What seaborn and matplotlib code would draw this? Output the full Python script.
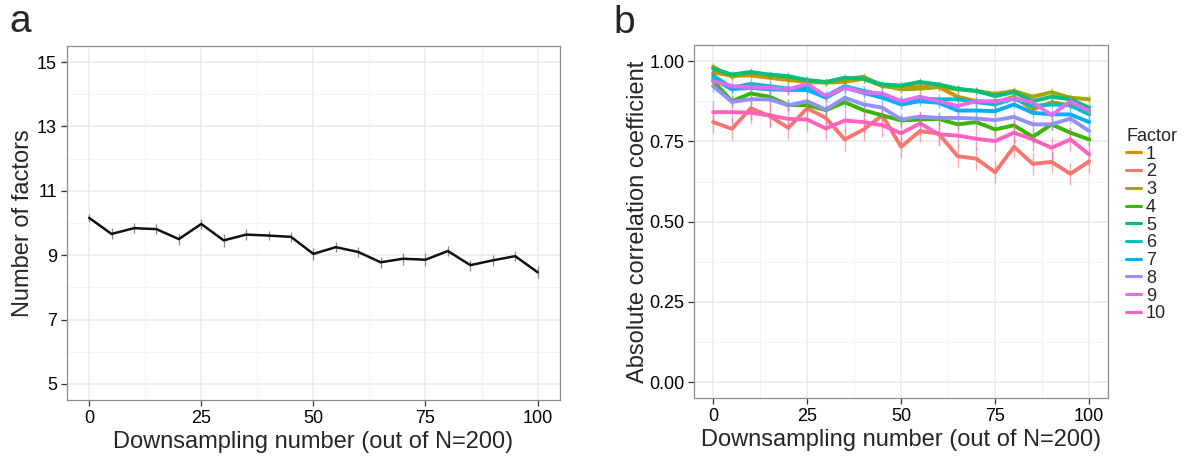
import numpy as np
import pandas as pd
import matplotlib
matplotlib.use("Agg")
import matplotlib.pyplot as plt
from matplotlib.lines import Line2D
from matplotlib.ticker import MultipleLocator, FormatStrFormatter
import seaborn as sns

# ---------------- data ----------------
downsampling = [0, 5, 10, 15, 20, 25, 30, 35, 40, 45, 50,
                55, 60, 65, 70, 75, 80, 85, 90, 95, 100]

# panel a: number of factors (mean) and error half-width
n_factors = [10.16, 9.66, 9.84, 9.81, 9.50, 9.97, 9.46, 9.64, 9.61, 9.57, 9.04,
             9.25, 9.10, 8.78, 8.89, 8.86, 9.13, 8.69, 8.84, 8.97, 8.47]
n_factors_err = [0.12, 0.17, 0.15, 0.15, 0.17, 0.15, 0.2, 0.17, 0.15, 0.15, 0.18,
                 0.15, 0.17, 0.17, 0.18, 0.2, 0.17, 0.17, 0.18, 0.15, 0.18]

# panel b: absolute correlation coefficient per factor
factor_1 = [0.964, 0.955, 0.955, 0.948, 0.941, 0.935, 0.933, 0.935, 0.945, 0.922, 0.917,
            0.922, 0.919, 0.889, 0.875, 0.870, 0.889, 0.849, 0.872, 0.862, 0.844]
factor_2 = [0.810, 0.789, 0.853, 0.829, 0.792, 0.853, 0.823, 0.756, 0.787, 0.831, 0.733,
            0.782, 0.774, 0.704, 0.696, 0.654, 0.733, 0.680, 0.686, 0.649, 0.688]
factor_3 = [0.982, 0.951, 0.964, 0.955, 0.945, 0.938, 0.933, 0.943, 0.951, 0.924, 0.912,
            0.914, 0.919, 0.912, 0.907, 0.898, 0.907, 0.889, 0.903, 0.886, 0.881]
factor_4 = [0.938, 0.875, 0.899, 0.889, 0.863, 0.863, 0.847, 0.872, 0.847, 0.831, 0.815,
            0.818, 0.820, 0.803, 0.810, 0.787, 0.800, 0.764, 0.803, 0.777, 0.756]
factor_5 = [0.976, 0.958, 0.966, 0.958, 0.953, 0.941, 0.935, 0.948, 0.945, 0.927, 0.924,
            0.935, 0.927, 0.914, 0.907, 0.891, 0.903, 0.875, 0.889, 0.881, 0.855]
factor_6 = [0.955, 0.917, 0.929, 0.922, 0.914, 0.917, 0.891, 0.922, 0.907, 0.896, 0.875,
            0.883, 0.881, 0.881, 0.872, 0.865, 0.883, 0.860, 0.865, 0.862, 0.834]
factor_7 = [0.945, 0.912, 0.917, 0.912, 0.910, 0.910, 0.886, 0.917, 0.901, 0.886, 0.865,
            0.875, 0.870, 0.846, 0.846, 0.844, 0.865, 0.839, 0.834, 0.834, 0.810]
factor_8 = [0.922, 0.873, 0.881, 0.881, 0.862, 0.875, 0.849, 0.886, 0.865, 0.855, 0.818,
            0.827, 0.823, 0.823, 0.821, 0.816, 0.826, 0.803, 0.803, 0.821, 0.782]
factor_9 = [0.938, 0.922, 0.919, 0.917, 0.912, 0.929, 0.891, 0.917, 0.903, 0.899, 0.875,
            0.889, 0.875, 0.860, 0.875, 0.875, 0.883, 0.872, 0.831, 0.875, 0.844]
factor_10 = [0.841, 0.841, 0.839, 0.831, 0.820, 0.818, 0.790, 0.815, 0.810, 0.800, 0.775,
             0.806, 0.772, 0.768, 0.758, 0.751, 0.777, 0.756, 0.730, 0.756, 0.709]

factor_labels = ["1", "2", "3", "4", "5", "6", "7", "8", "9", "10"]
factor_err = [0.012, 0.035, 0.012, 0.018, 0.012, 0.015, 0.015, 0.018, 0.015, 0.035]
factor_colors = ["#D89000", "#F8766D", "#A3A500", "#39B600", "#00BF7D",
                 "#00BFC4", "#00B0F6", "#9590FF", "#E76BF3", "#FF62BC"]
factor_values = [factor_1, factor_2, factor_3, factor_4, factor_5,
                 factor_6, factor_7, factor_8, factor_9, factor_10]

# ---------------- style ----------------
sns.set_theme(style="white")
plt.rcParams["font.family"] = ["Liberation Sans", "DejaVu Sans"]

GRID_MAJOR = "#EBEBEB"
GRID_MINOR = "#F4F4F4"
BORDER = "#8C8C8C"


def style_axes(ax):
    ax.set_facecolor("white")
    for s in ax.spines.values():
        s.set_visible(True)
        s.set_color(BORDER)
        s.set_linewidth(0.9)
    ax.grid(True, which="major", color=GRID_MAJOR, linewidth=1.1, zorder=0)
    ax.grid(True, which="minor", color=GRID_MINOR, linewidth=0.7, zorder=0)
    ax.set_axisbelow(True)
    ax.tick_params(which="major", direction="out", length=4, width=0.9,
                   color="#333333", labelsize=13, labelcolor="black", pad=3,
                   bottom=True, left=True)
    ax.tick_params(which="minor", length=0)
    ax.xaxis.set_major_locator(MultipleLocator(25))
    ax.xaxis.set_minor_locator(MultipleLocator(12.5))
    ax.set_xlim(-5, 105)


fig = plt.figure(figsize=(11.85, 4.57), dpi=100)
ax_a = fig.add_axes([0.0563, 0.1247, 0.4163, 0.7746])
ax_b = fig.add_axes([0.5859, 0.1284, 0.3491, 0.7731])

# ---------------- panel a ----------------
df_a = pd.DataFrame({"x": downsampling, "y": n_factors, "err": n_factors_err})
style_axes(ax_a)
ax_a.vlines(df_a["x"], df_a["y"] - df_a["err"], df_a["y"] + df_a["err"],
            color="#8a8a8a", linewidth=0.9, zorder=2)
sns.lineplot(data=df_a, x="x", y="y", ax=ax_a, color="#111111", linewidth=1.8,
             zorder=3, legend=False)
ax_a.set_ylim(4.5, 15.5)
ax_a.yaxis.set_major_locator(MultipleLocator(2, offset=1))
ax_a.yaxis.set_minor_locator(MultipleLocator(1))
ax_a.set_xlabel("Downsampling number (out of N=200)", fontsize=17, labelpad=3)
ax_a.set_ylabel("Number of factors", fontsize=17, labelpad=2)

# ---------------- panel b ----------------
rows = []
for lab, vals, err in zip(factor_labels, factor_values, factor_err):
    for x, v in zip(downsampling, vals):
        rows.append({"x": x, "r": v, "err": err, "Factor": lab})
df_b = pd.DataFrame(rows)

style_axes(ax_b)
palette = dict(zip(factor_labels, factor_colors))
sns.lineplot(data=df_b, x="x", y="r", hue="Factor", hue_order=factor_labels,
             palette=palette, linewidth=2.8, ax=ax_b, legend=False, zorder=3)
for lab in factor_labels:
    sub = df_b[df_b["Factor"] == lab]
    ax_b.vlines(sub["x"], sub["r"] - sub["err"], sub["r"] + sub["err"],
                color=palette[lab], linewidth=1.0, alpha=0.6, zorder=4)
ax_b.set_ylim(-0.05, 1.05)
ax_b.yaxis.set_major_locator(MultipleLocator(0.25))
ax_b.yaxis.set_minor_locator(MultipleLocator(0.125))
ax_b.yaxis.set_major_formatter(FormatStrFormatter("%.2f"))
ax_b.set_xlabel("Downsampling number (out of N=200)", fontsize=17, labelpad=3)
ax_b.set_ylabel("Absolute correlation coefficient", fontsize=17, labelpad=0)

handles = [Line2D([0], [0], color=c, linewidth=2.2) for c in factor_colors]
leg = ax_b.legend(handles, factor_labels, title="Factor", loc="upper left",
                  bbox_to_anchor=(1.044, 0.765), frameon=False, fontsize=13,
                  title_fontsize=13, handlelength=0.8, handletextpad=0.3,
                  labelspacing=0.04, borderaxespad=0.0, borderpad=0.0)
leg._legend_box.align = "left"

# panel letters
fig.text(0.008, 0.930, "a", fontsize=28, ha="left", va="baseline")
fig.text(0.518, 0.928, "b", fontsize=28, ha="left", va="baseline")

fig.savefig("out.png", dpi=100)
